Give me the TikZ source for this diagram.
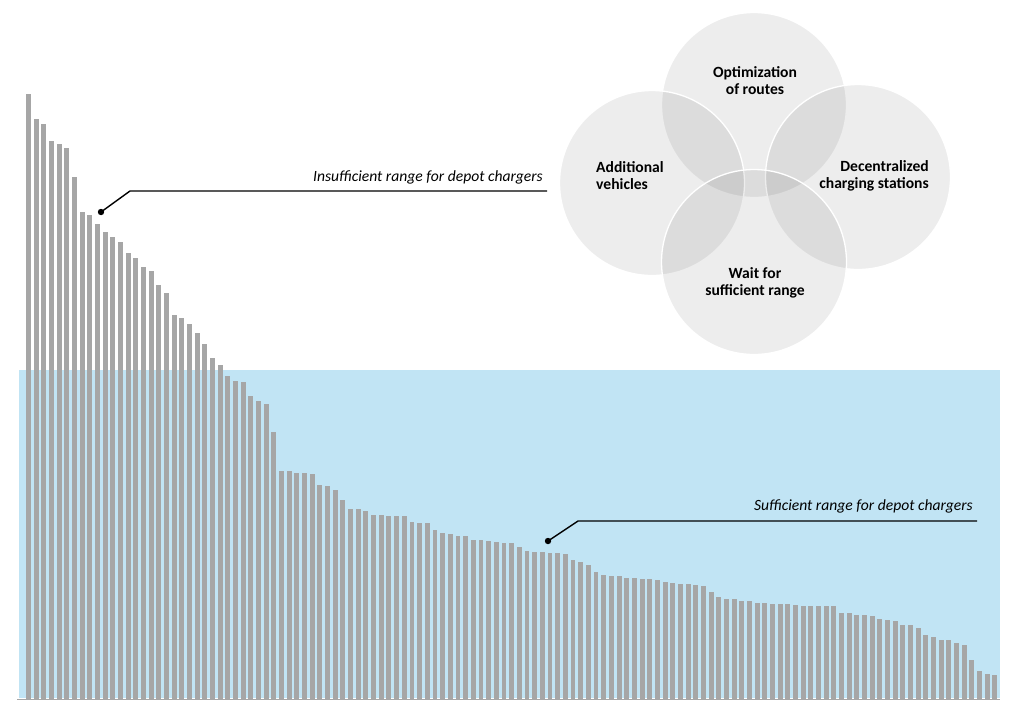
\documentclass[tikz,border=0pt]{standalone}
\usepackage{fontspec}
\setmainfont{Carlito}
\usepackage{tikz}
\usetikzlibrary{positioning,shapes.geometric}
\definecolor{barGray}{HTML}{A6A6A6}
\definecolor{okBlue}{HTML}{C1E4F4}
\tikzstyle{bar} = [fill=barGray]
\tikzstyle{option} = [circle, minimum size=185pt, inner sep=0pt, fill=black, fill opacity=0.07, draw=white, line width=1.3pt]
\tikzstyle{optlabel} = [font=\fontsize{15.6}{17}\selectfont\bfseries, align=center, inner sep=0pt]
\tikzstyle{note} = [font=\fontsize{15.6}{17}\selectfont\itshape, inner sep=0pt]
\tikzstyle{callout} = [line width=1.4pt, black]

\begin{document}
\begin{tikzpicture}[x=1pt, y=-1pt]
    \useasboundingbox (0,0) rectangle (1024,721);
    % region covered by depot chargers
    \fill[okBlue] (19,370) rectangle (1000,698);
    \draw[barGray, line width=0.8pt] (17,699) -- (1000,699);
    % one bar per vehicle, sorted by required range
    \foreach \h [count=\i] in {94,119,124,141,144,148,177,212,215,224,232,237,242,253,258,
        267,271,285,293,315,318,324,333,344,358,365,376,381,382,396,
        401,404,432,471,471,473,473,474,485,486,490,500,509,509,511,515,515,516,516,516,
        522,523,523,530,533,534,536,536,540,540,541,542,543,543,547,551,552,552,553,553,
        554,560,562,565,572,575,576,576,578,578,579,579,580,582,583,584,584,585,586,592,
        597,599,599,601,601,603,603,604,604,604,605,606,606,606,606,606,613,613,615,615,
        616,619,620,621,625,625,628,635,637,640,640,643,645,660,671,674,675}
        \fill[bar] ({26+(\i-1)*7.67},699) rectangle ({30.9+(\i-1)*7.67},\h);
    % measures
    \node[option] (routes) at (754,105) {};
    \node[option] (vehicles) at (652,183) {};
    \node[option] (stations) at (858,177) {};
    \node[option] (wait) at (754,262) {};
    \node[optlabel] (routeslbl) at (755,81) {Optimization\\of routes};
    \node[optlabel, align=left, anchor=west] (vehicleslbl) at (596,176) {Additional\\vehicles};
    \node[optlabel, align=right, anchor=east] (stationslbl) at (929,176) {Decentralized\\charging stations};
    \node[optlabel] (waitlbl) at (755,283) {Wait for\\sufficient range};
    % callouts
    \coordinate (insufdot) at (101,212);
    \coordinate (insufbend) at (130,191);
    \coordinate (insufend) at (547,191);
    \node[note, anchor=south east] (insuf) at (543,184) {Insufficient range for depot chargers};
    \fill (insufdot) circle (3.2);
    \draw[callout] (insufdot) -- (insufbend) -- (insufend);
    \coordinate (sufdot) at (548,541);
    \coordinate (sufbend) at (578,521);
    \coordinate (sufend) at (977,521);
    \node[note, anchor=south east] (suf) at (973,513) {Sufficient range for depot chargers};
    \fill (sufdot) circle (3.2);
    \draw[callout] (sufdot) -- (sufbend) -- (sufend);
\end{tikzpicture}
\end{document}
